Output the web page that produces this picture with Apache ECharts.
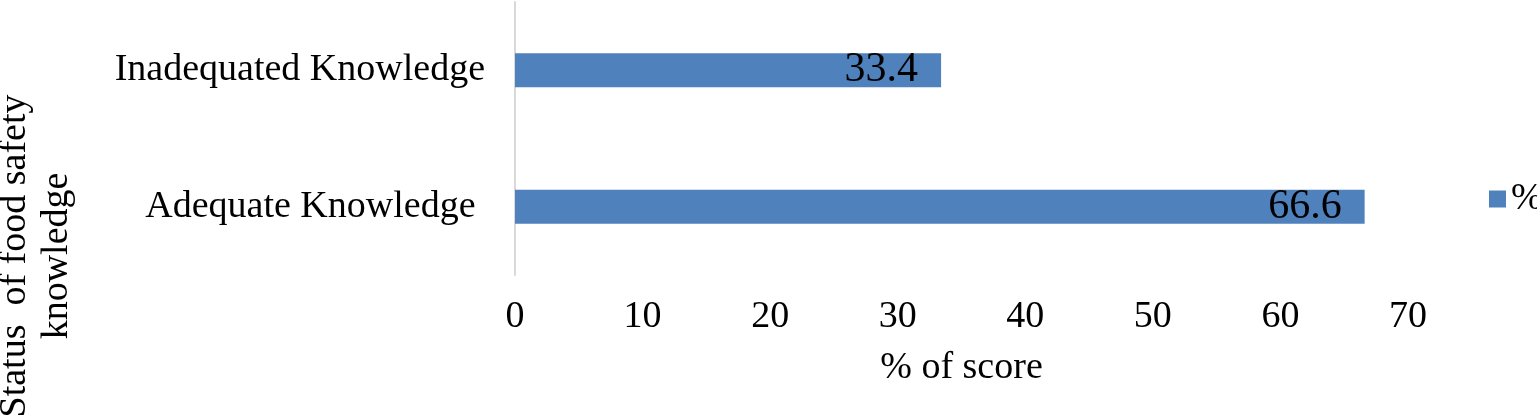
<!DOCTYPE html>
<html>
<head>
<meta charset="utf-8">
<title>Status of food safety knowledge</title>
<script src="https://cdn.jsdelivr.net/npm/echarts@6/dist/echarts.min.js"></script>
<style>
  html, body { margin: 0; padding: 0; background: #fff; }
  #main { width: 1537px; height: 417px; }
</style>
</head>
<body>
<div id="main"></div>
<script>
// categories listed bottom to top (category axis starts at the bottom)
var categories = ['Adequate Knowledge ', 'Inadequated Knowledge'];
var percentValues = [66.6, 33.4];
var seriesName = '%';
var xAxisTitle = '% of score';
var yAxisTitle = 'Status  of food safety\nknowledge';

var font = "'Liberation Serif', 'Times New Roman', serif";

var myChart = echarts.init(document.getElementById('main'));

var option = {
    animation: false,
    textStyle: { fontFamily: font },
    grid: {
        left: 515,
        top: 2,
        width: 893,
        height: 273,
        containLabel: false
    },
    legend: {
        data: [seriesName],
        left: 1484,
        top: 175,
        itemWidth: 17,
        itemHeight: 17,
        icon: 'rect',
        textStyle: { fontFamily: font, fontSize: 38, color: '#000' }
    },
    xAxis: {
        type: 'value',
        min: 0,
        max: 70,
        interval: 10,
        name: xAxisTitle,
        nameLocation: 'middle',
        nameGap: 74,
        nameTextStyle: { fontFamily: font, fontSize: 38, color: '#000' },
        axisLine: { show: false },
        axisTick: { show: false },
        splitLine: { show: false },
        axisLabel: { fontFamily: font, fontSize: 38, color: '#000', margin: 23 }
    },
    yAxis: {
        type: 'category',
        data: categories,
        axisLine: { show: true, lineStyle: { color: '#d9d9d9', width: 2 } },
        axisTick: { show: false },
        axisLabel: { fontFamily: font, fontSize: 38, color: '#000', margin: 30 }
    },
    graphic: [{
        type: 'text',
        x: 36,
        y: 256,
        rotation: Math.PI / 2,
        style: {
            text: yAxisTitle,
            font: '38px ' + font,
            fill: '#000',
            align: 'center',
            verticalAlign: 'middle',
            lineHeight: 42
        }
    }],
    series: [{
        name: seriesName,
        type: 'bar',
        data: percentValues,
        barWidth: 34,
        itemStyle: { color: '#4f81bd' },
        label: {
            show: true,
            position: 'insideRight',
            distance: 23,
            color: '#000',
            fontFamily: font,
            fontSize: 42
        }
    }]
};

myChart.setOption(option);
</script>
</body>
</html>
